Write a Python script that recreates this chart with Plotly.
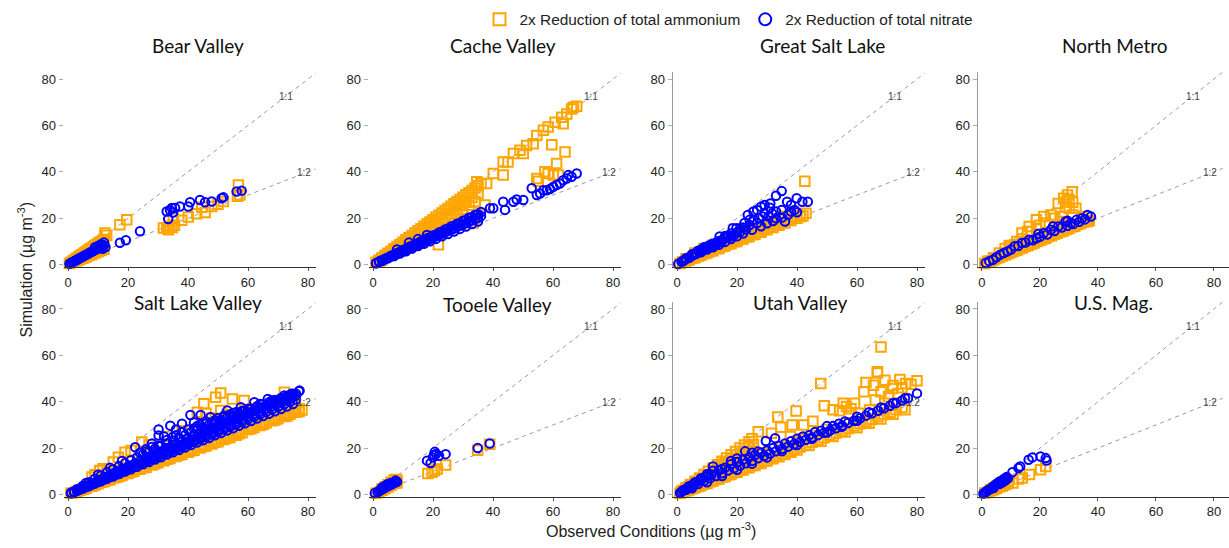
import plotly.graph_objects as go

PANEL_TITLES = ["Bear Valley", "Cache Valley", "Great Salt Lake", "North Metro",
                "Salt Lake Valley", "Tooele Valley", "Utah Valley", "U.S. Mag."]
TICK_VALUES = [0, 20, 40, 60, 80]
SERIES_NAMES = ["2x Reduction of total ammonium", "2x Reduction of total nitrate"]
REF_X = [0, 83]
REF_11 = [0, 83]
REF_12 = [0, 41.5]

# (observed, simulated) pairs
BEAR_NH4 = [(0.5,0.5),(1,0.9),(1.5,1.4),(2,1.8),(2.5,2.3),(3,2.7),(3.5,3.2),(4,3.6),(4.5,4.1),(5,4.5),(5.5,5),(6,5.4),
            (6.5,5.9),(7,6.3),(7.5,6.8),(8,7.2),(8.5,7.7),(9,8.1),(9.5,8.6),(10,9),(10.5,9.5),(11,9.9),(11.5,10.4),(12,10.8),
            (2,1.1),(3,1.7),(4,2.2),(5,2.8),(6,3.3),(7,3.9),(8,4.4),(9,5),(10,5.5),(11,6.1),(12,6.6),
            (3,2.2),(5,3.7),(7,5.2),(9,6.6),(11,8.1),
            (12.3,13.6),(12.9,12.7),(17.3,17.2),(19.6,19.4),
            (31.8,15.8),(32.9,15.8),(34,16.5),(33.5,15),(34.8,16),(35.1,20),(35.5,17),(37.9,19.1),(40.1,20.5),
            (42.9,21.9),(44.6,24.7),(45.7,22.5),(47.9,25.1),(51.8,27.2),(56.8,34.3),(57.3,30),(56.5,29.5),(50,26)]
BEAR_NO3 = [(0.5,0.4),(1,0.7),(1.5,1.1),(2,1.4),(2.5,1.8),(3,2.1),(3.5,2.5),(4,2.8),(4.5,3.2),(5,3.5),(5.5,3.9),(6,4.2),
            (6.5,4.6),(7,4.9),(7.5,5.3),(8,5.6),(8.5,6),(9,6.3),(9.5,6.7),(10,7),(10.5,7.4),(11,7.7),(11.5,8.1),(12,8.4),
            (12,9.5),(11,8.8),(10,8),(9,7.5),(12.5,7.5),(11.5,6.8),
            (17.3,9.4),(19.3,10.5),(24,14.4),
            (32.9,22.9),(33.4,19.7),(34.6,24.4),(35.7,24.4),(37.3,25.1),(40.1,25.1),(40.7,26.9),(44,27.9),(45.7,26.9),
            (47.9,27.2),(51.2,28.6),(51.8,29),(56.2,31.5),(57.9,31.9),(34,23.5),(35,22.5)]

CACHE_NH4 = [(1,1),(2,1.9),(3,2.9),(4,3.9),(5,4.9),(6,5.8),(7,6.8),(8,7.8),(9,8.7),(10,9.7),(11,10.7),(12,11.6),(13,12.6),
             (14,13.6),(15,14.6),(16,15.5),(17,16.5),(18,17.5),(19,18.4),(20,19.4),(21,20.4),(22,21.3),(23,22.3),(24,23.3),
             (25,24.2),(26,25.2),(27,26.2),(28,27.2),(29,28.1),(30,29.1),(31,30.1),(32,31),(33,32),(34,33),(35,34),(36,35),
             (2,1.6),(4,3.2),(6,4.8),(8,6.4),(10,8),(12,9.6),(14,11.2),(16,12.8),(18,14.4),(20,16),(22,17.6),(24,19.2),
             (26,20.8),(28,22.4),(30,24),(32,25.6),(34,27.2),
             (3,2.6),(5,4.4),(7,6.1),(9,7.9),(11,9.6),(13,11.4),(15,13.1),(17,14.9),(19,16.6),(21,18.4),(23,20.1),
             (25,21.9),(27,23.6),(29,25.4),(31,27.1),(33,28.9),(35,30.5),
             (3,2),(6,3.9),(9,5.9),(12,7.8),(15,9.8),(18,11.7),(21,13.7),(24,15.6),(27,17.6),(30,19.5),(33,21.5),
             (21.8,8.6),(37.3,25.7),(37.9,35),(32.9,22.9),(33.4,17.9),(27.9,25.7),(34.6,35.7),(30.5,27),
             (40.1,39.3),(43.4,44.3),(45,44.3),(46.8,47.9),(49,49.3),(51.2,51.4),(53.4,52.1),(54.6,55.7),(56.8,57.9),
             (58.4,59.3),(60.7,61.4),(62.9,63.6),(64.6,65),(66.2,67.1),(67.9,68.3),(66.8,67.9),
             (43.4,38.6),(50.1,47.9),(54.6,37.1),(55.1,36),(57.3,40),(58.4,39.3),(60.1,38.6),(61.8,38.6),(59.6,51.7),
             (61.2,43.6),(64,48.6),(63.4,60.7)]
CACHE_NO3 = [(2,1.3),(4,2.5),(6,3.8),(8,5),(10,6.3),(12,7.6),(14,8.8),(16,10.1),(18,11.3),(20,12.6),(22,13.9),(24,15.1),
             (26,16.4),(28,17.6),(30,18.9),(32,20.2),(34,21.4),(36,22.7),
             (3,1.6),(5,2.7),(7,3.7),(9,4.8),(11,5.8),(13,6.9),(15,8),(17,9),(19,10.1),(21,11.1),(23,12.2),(25,13.2),
             (27,14.3),(29,15.4),(31,16.4),(33,17.5),(35,18.6),
             (2,1.2),(4,2.3),(6,3.5),(8,4.6),(10,5.8),(12,7),(14,8.1),(16,9.3),(18,10.4),(20,11.6),(22,12.8),(24,13.9),
             (26,15.1),(28,16.2),(30,17.4),(32,18.6),(34,19.7),(36,20.9),
             (1,0.6),(3,1.9),(5,3.1),(7,4.3),(9,5.6),(11,6.8),(13,8.1),(15,9.3),(17,10.5),(19,11.8),(21,13),(23,14.3),
             (25,15.5),(27,16.7),(29,18),(31,19.2),(33,20.5),(35,21.7),
             (1,0.6),(5,2.9),(9,5.2),(13,7.5),(17,9.9),(21,12.2),(25,14.5),(29,16.8),(33,19.1),
             (3,1.8),(7,4.1),(11,6.4),(15,8.7),(19,11),(23,13.3),(27,15.6),(31,17.9),(35,20.2),
             (8,6.5),(12,9.5),(15,11),(18,12.8),(34.6,21.4),
             (39,24.3),(40.1,24.3),(43.4,27.1),(44,23.6),(46.8,27.1),(47.9,28.1),(50.1,27.9),(52.9,32.9),(54.6,30),
             (55.7,30.7),(56.8,32.1),(57.9,32.1),(59,32.6),(60.1,33.6),(61.2,34.3),(62.3,35),(63.4,36.4),(64.6,37.1),
             (65.1,38.6),(66.2,37.9),(67.9,39.3)]

GSL_NH4 = [(1,0.5),(3,1.6),(5,2.6),(7,3.6),(9,4.7),(11,5.7),(13,6.8),(15,7.8),(17,8.8),(19,9.9),(21,10.9),(23,12),
           (25,13),(27,14),(29,15.1),(31,16.1),(33,17.2),(35,18.2),(37,19.2),(39,20.3),(41,21.3),(43,22.1),
           (2,1.2),(4,2.3),(6,3.5),(8,4.6),(10,5.8),(12,7),(14,8.1),(16,9.3),(18,10.4),(20,11.6),(22,12.8),(24,13.9),
           (26,15.1),(28,16.2),(30,17.4),(32,18.6),(34,19.7),(36,20.9),
           (2,1),(4,2),(6,3),(8,4),(10,5),(12,6),(14,7),(16,8),(18,9),(20,10),(22,11),(24,12),(26,13),(28,14),
           (30,15),(32,16),(34,17),(36,18),(38,19),(40,20),(42,21),
           (42.6,36),(41.1,20.7),(3,2.5),(6,5),(9,7),(12,8.5)]
GSL_NO3 = [(0.4,0.3),(1.5,1.2),(2.3,1.8),(3,2.4),(4.1,3),(5,3.8),(6,4.5),(6.6,4.8),(7.5,5.5),(8.5,6.2),(9.5,7),(10.4,7.5),
           (11.5,8),(12.9,8.6),(14.2,12.1),(14.8,9.6),(16,11.4),(17.9,12.1),(18.6,15.7),(19.8,15.7),(21.1,15.7),
           (23.6,21.4),(24.2,19.3),(25.5,22.9),(26.7,23.6),(28,25),(29.2,25.7),(31.1,26.4),(33,29.7),(34.9,31.7),
           (39.9,28.6),(41.8,27.1),(43.6,27.1),(38,25.7),(36.7,27.1),(34.9,23.6),(33,22.9),(31.7,22.1),(30.5,20.7),
           (29.2,22.1),(27.3,20),(25.5,19.3),(26.7,17.9),(24.2,17.1),(33,20),(38,22.9),(39.2,23.6),(22,16),(20,14),
           (17,12.5),(15,10.5),(13,9.5),(11,8.5),(9,7.5),(7,6),(5,4.5),(3,2.8),(8,5.3),(10,6.5),(12,7.5),(14,8.6),
           (16,9.8),(18,11),(20,12.2),(22,13.4),(25,15),(28,16.5),(30,17.8),(32,18.8),(35,20.3),(37,21.5),(40,22.6),
           (36,18.6),(28.5,20.8),(31,24.5),(22.5,18),(2,1.6),(4,3.2),(6,4.8),(8,6.4),(10,7.8),(12,9),(14,10.2),
           (16,12.3),(18,13.4),(19,12.8),(21,14),(23,15.2)]

NMETRO_NH4 = [(1,0.5),(3,1.6),(5,2.6),(7,3.7),(9,4.7),(11,5.8),(13,6.8),(15,7.9),(17,8.9),(19,10),(21,11),(23,12.1),
              (25,13.1),(27,14.2),(29,15.2),(31,16.3),(33,17.3),(35,18.4),(37,19),(35.7,18.6),
              (2,1),(4,2),(6,3.1),(8,4.1),(10,5.2),(12,6.2),(14,7.2),(16,8.3),(18,9.3),(20,10.4),(22,11.4),(24,12.4),
              (26,13.5),(28,14.5),(30,15.6),(32,16.6),(34,17.6),(36,18.8),
              (31.1,31.4),(29.5,30),(28.2,28.6),(26.3,26.4),(31.3,26.9),(32.4,24.3),(30.1,24.3),(28.8,25),(27.6,20.7),
              (25.1,20),(23.8,21.4),(21.3,20.7),(18.8,15.7),(16.9,14.3),(15.7,14.3),(13.8,13.6),(18.8,19.3),(16.3,16.4),
              (11.3,8.6),(10,7.9),(27,18.6),(31.3,21.4),(34.5,20.7),(36.4,18.6),(30,28),(29,27),(22,18),(20,17),
              (14,11),(12,10),(9.4,8.3),(8,7),(6,5),(4,3),(2,1.5)]
NMETRO_NO3 = [(37.6,20.7),(36.4,21.4),(34.5,20),(32.6,19.3),(30.7,17.9),(28.8,18.6),(26.3,16.4),(23.8,15),(21.3,13.6),
              (18.8,11.4),(16.3,10.7),(13.8,9.3),(11.3,7.9),(8.8,5.7),(6.3,4.3),(3.8,2.1),(1.3,0.7),(35.5,19.5),
              (33.5,18.5),(31.5,17.5),(29.5,16.8),(27.5,16),(25,14.5),(22.5,13),(20,12),(17.5,10.5),(15,9.5),
              (12.5,8),(10,6.5),(7.5,5),(5,3.2),(2.5,1.5),(24.5,16.5),(29.5,18.9),(19.5,13.3)]

SLV_NH4 = [(1,0.5),(3,1.4),(5,2.4),(7,3.4),(9,4.3),(11,5.3),(13,6.2),(15,7.2),(17,8.2),(19,9.1),(21,10.1),(23,11),
           (25,12),(27,13),(29,13.9),(31,14.9),(33,15.8),(35,16.8),(37,17.8),(39,18.7),(41,19.7),(43,20.6),(45,21.6),
           (47,22.6),(49,23.5),(51,24.5),(53,25.4),(55,26.4),(57,27.4),(59,28.3),(61,29.3),(63,30.2),(65,31.2),
           (67,32.2),(69,33.1),(71,34.1),(73,35),(75,36),(77,37),(75.5,36.9),
           (2,0.9),(4,1.8),(6,2.7),(8,3.6),(10,4.6),(12,5.5),(14,6.4),(16,7.3),(18,8.2),(20,9.1),(22,10),(24,10.9),
           (26,11.8),(28,12.7),(30,13.7),(32,14.6),(34,15.5),(36,16.4),(38,17.3),(40,18.2),(42,19.1),(44,20),
           (46,20.9),(48,21.8),(50,22.8),(52,23.7),(54,24.6),(56,25.5),(58,26.6),(60,28),(62,28.9),(64,29.8),
           (66,30.8),(68,31.8),(70,32.7),(72,33.6),(74,34.6),(76,35.5),(78,36.4),
           (5,2.3),(9,4.1),(13,6),(17,7.8),(21,9.7),(25,11.5),(29,13.3),(33,15.2),(37,17),(41,18.9),(45,20.7),
           (49,22.5),(53,24.4),(57,26.2),(61,28.4),(65,30.2),(69,32.1),(73,33.9),(77,35.8),
           (50.9,43.8),(49.2,41.9),(45.3,39.1),(54.8,41.2),(58.7,40.5),(43.1,35.5),(50.9,36.2),(24.6,22.6),(19,18.2),
           (16.8,16.1),(15.1,14),(10.6,10.3),(11.7,11.1),(72.1,44.1),(73.3,38.4),(69.4,39.8),(75.5,39.1),(13,11),
           (9,8.5),(8,7.5),(46,35),(56,35),(62,37),(21,19),(27,21.5),(33,25),(38,27.5),(48,33),(53,34.5)]
SLV_NO3 = [(1,0.8),(3,2.3),(5,3.8),(7,5.3),(9,6.8),(11,8.2),(13,9.6),(15,10.9),(17,12.2),(19,13.5),(21,14.8),(23,16),
           (25,17.3),(27,18.5),(29,19.7),(31,20.9),(33,22.1),(35,23.3),(37,24.5),(39,25.6),(41,26.8),(43,27.9),(45,29),
           (47,30),(49,31.1),(51,32.1),(53,33.1),(55,34.1),(57,35.1),(59,36.1),(61,37),(63,38),(65,38.9),(67,39.8),
           (69,40.7),(71,41.6),(73,42.5),(75,43.4),(77,44.5),
           (2,1.1),(4,2.2),(6,3.4),(8,4.5),(10,5.6),(12,6.7),(14,7.8),(16,9),(18,10.1),(20,11.2),(22,12.3),(24,13.4),
           (26,14.6),(28,15.7),(30,16.8),(32,17.9),(34,19),(36,20.2),(38,21.3),(40,22.4),(42,23.5),(44,24.6),(46,25.8),
           (48,26.9),(50,28),(52,29.1),(54,30.2),(56,31.4),(58,32.5),(60,33.6),(62,34.7),(64,35.8),(66,37),(68,38.1),
           (70,39.2),(72,40.3),(74,41.4),(76,42.6),
           (2,1.3),(4,2.5),(6,3.7),(8,4.9),(10,6.1),(12,7.3),(14,8.5),(16,9.7),(18,10.9),(20,12),(22,13.2),(24,14.4),
           (26,15.6),(28,16.8),(30,18),(32,19.2),(34,20.4),(36,21.6),(38,22.8),(40,24),(42,25.1),(44,26.3),(46,27.4),
           (48,28.6),(50,29.7),(52,30.8),(54,32),(56,33.1),(58,34.2),(60,35.3),(62,36.4),(64,37.4),(66,38.4),
           (68,39.4),(70,40.4),(72,41.4),(74,42.4),(76,43.5),
           (1,0.6),(3,1.7),(5,2.9),(7,4.1),(9,5.2),(11,6.4),(13,7.5),(15,8.7),(17,9.9),(19,11),(21,12.2),(23,13.3),
           (25,14.5),(27,15.7),(29,16.8),(31,18),(33,19.1),(35,20.3),(37,21.5),(39,22.6),(41,23.8),(43,24.9),(45,26.1),
           (47,27.3),(49,28.4),(51,29.6),(53,30.7),(55,31.9),(57,33),(59,34.2),(61,35.3),(63,36.5),(65,37.6),
           (67,38.8),(69,39.9),(71,41),(73,42),(75,43),
           (2,1.1),(4,2.2),(6,3.2),(8,4.3),(10,5.4),(12,6.5),(14,7.6),(16,8.6),(18,9.7),(20,10.8),(22,11.9),(24,13),
           (26,14),(28,15.1),(30,16.2),(32,17.3),(34,18.4),(36,19.4),(38,20.5),(40,21.6),(42,22.7),(44,23.8),(46,24.8),
           (48,25.9),(50,27),(52,28.1),(54,29.2),(56,30.2),(58,31.3),(60,32.4),(62,33.5),(64,34.6),(66,35.6),
           (68,36.7),(70,37.8),(72,38.9),(74,40),(76,41),
           (1,0.5),(3,1.6),(5,2.6),(7,3.6),(9,4.7),(11,5.7),(13,6.8),(15,7.8),(17,8.8),(19,9.9),(21,10.9),(23,12),
           (25,13),(27,14),(29,15.1),(31,16.1),(33,17.2),(35,18.2),(37,19.2),(39,20.3),(41,21.3),(43,22.4),(45,23.4),
           (47,24.4),(49,25.5),(51,26.5),(53,27.6),(55,28.6),(57,29.6),(59,30.7),(61,31.7),(63,32.8),(65,33.8),
           (67,34.8),(69,35.9),(71,36.9),(73,38),(75,39),
           (26,18.5),(30,21),(33,23.5),(36,25.5),(40,28),(43,29.5),(46,30.5),(49,32),(52,33.5),(56,35.5),(60,37),
           (64,39),(68,40.5),(28,20.5),(35,24.8),(42,28.5),(48,31),(54,34.5),
           (30.2,28),(30.2,25.4),(34.1,29.7),(22.4,20.4),(38,30.5),(40.8,34.3),(44.2,34.3),(47.5,33.3),(53.1,36.2),
           (57.6,37.6),(62.1,39.8),(66.6,41.2),(72.1,42.7),(77.2,44.8),(74.4,43.4),(36,28),(42,31),(46,31.5),(50,33),
           (55,35),(28,22),(32,25),(26,19.5),(18,14.5),(14,11.5),(10,8.5),(6,5),(24,18),(38,27),(44,30),(52,34),(58,36)]

TOOELE_NH4 = [(18.3,9.1),(19.7,9.6),(21.4,11),(24.2,12.7),(34.9,19.1),(38.9,21.7),(20.5,10.3),(1,0.5),(2,1),(3,1.8),
              (4,2.5),(5,3.2),(6,4),(7,5),(7.5,5.8),(8,6.3),(7,6.2),(6,5.3),(5,4.2),(4,3.2),(3,2.4),(8,5),(6.5,4.8),(7.5,6.5)]
TOOELE_NO3 = [(0.6,0.6),(1.5,1),(2,1.5),(2.5,1.8),(3,2.3),(3.5,2.6),(4,3),(4.5,3.3),(5,3.6),(5.5,4),(6,4.3),(6.5,4.6),
              (7,5),(7.5,5.3),(8,5.5),(7.5,6),(6,5),(5,4.5),(4,3.8),(3,3),(18,14.6),(19.2,13.6),(20.3,17),(20.6,18.4),
              (22,16.7),(24.2,17.4),(34.9,20),(38.9,22),(20,16),(21,17.5)]

UTAH_NH4 = [(1,0.5),(3,1.5),(5,2.5),(7,3.5),(9,4.5),(11,5.5),(13,6.5),(15,7.5),(17,8.5),(19,9.5),(21,10.5),(23,11.5),
            (25,12.5),(27,13.5),(29,14.5),(31,15.5),(33,16.5),(35,17.5),(37,18.5),(39,19.5),(41,20.5),(43,21.5),
            (45,22.5),(47,23.5),(49,24.5),(51,25.5),(53,26.5),(55,27.5),(57,28.5),(59,29.5),(61,30.5),(63,31.5),
            (65,32.5),(67,33.5),(69,34.5),(71,35.5),(73,36.5),(75,37.5),
            (2,1),(4,1.9),(6,2.9),(8,3.8),(10,4.8),(12,5.8),(14,6.7),(16,7.7),(18,8.6),(20,9.6),(22,10.6),(24,11.5),
            (26,12.5),(28,13.4),(30,14.4),(32,15.4),(34,16.3),(36,17.3),(38,18.2),(40,19.2),(44,21.1),(48,23),
            (52,25),(56,26.9),(60,28.8),(64,30.7),(68,32.6),(72,34.6),(76,36.5),
            (30,18),(35,20.5),(40,23),(45,25.5),(50,28),(28,17),(42,24),
            (1.5,1.4),(3,2.9),(4.5,4.3),(6,5.7),(7.5,7.1),(9,8.6),(10.5,10),(12,11.4),(13.5,12.8),(15,14.3),
            (16.5,15.7),(18,17.1),(19.5,18.5),(21,20),(22.5,21.4),(24,22.8),(25,24),
            (2,1.7),(4,3.4),(6,5.1),(8,6.8),(10,8.5),(12,10.2),(14,11.9),(16,13.6),(18,15.3),(20,17),(22,18.7),
            (24,20.4),(25.5,21.5),
            (3,2.3),(5,3.8),(7,5.3),(9,6.8),(11,8.3),(13,9.8),(15,11.3),(17,12.8),(19,14.3),(21,15.8),(23,17.3),(25,18.8),
            (4,2.6),(8,5.2),(12,7.8),(16,10.4),(20,13),(24,15.6),
            (68,63.6),(66.8,52.9),(47.9,47.9),(33.6,33.4),(39.7,36),(49.1,38.3),(45.3,31.6),(42.2,30),(38.4,30),
            (34.6,29),(27.1,27.1),(54.2,36.1),(55.4,39.3),(59.2,39.3),(57.3,35),(63,48.3),(62.3,44.3),(65.5,47.1),
            (69.3,49.3),(74.3,49.6),(76.2,47.9),(80,49),(82.7,49.6),(71.8,45.7),(68,44.3),(70.5,42.1),(66.1,40.7),
            (73.7,43.6),(69.3,39.3),(64.2,36.4),(60.5,35),(37.8,25),(31.5,26.4),(23.9,20.7),(66.8,52.4),(56.5,38),
            (58,37),(52,36.5),(72,47),(75,46),(78,47.5)]
UTAH_NO3 = [(1,0.7),(3,2),(5,3.3),(7,4.5),(9,5.8),(11,7),(13,8),(15,9.2),(17,10.3),(19,11.3),(21,12.4),(23,13.5),
            (25,14.5),(27,15.6),(29,16.6),(31,17.6),(33,18.6),(35,19.6),(37,20.6),(39,21.6),(41,22.6),(43,23.6),
            (45,24.6),(47,25.6),(49,26.6),(51,27.6),(53,28.6),(55,29.7),(57,30.8),(59,31.8),(61,32.9),(63,34),
            (65,35),(67,36.1),(69,37.2),(71,38.3),(73,39.4),(75,40.5),(77,41.5),(80,43.6),(82.7,45.4),
            (2,1.8),(4,3.6),(6,5.3),(8,7),(10,8.7),(12,10.2),(14,10.5),(16,11.5),(18,13),(20,14),(22,15),(24,16),
            (26,17),(28,18),(30,19),(32,20),(34,21),(36,22),(38,23),(40,24),(44,25.5),(48,27.5),(52,29.5),(56,31.5),
            (60,33.5),(64,35.5),(68,37.5),(72,39.5),(76,41.5),
            (1.5,1.2),(2.5,2),(3.5,2.9),(4.5,3.7),(5.5,4.5),(6.5,5.3),(7.5,6),(8.5,6.8),(9.5,7.5),(10.5,8.3),(11.5,8.5),
            (29.6,23.1),(32.7,24.3),(22.7,18.6),(12,12.1),(15,11),(18,14.5),(20,15.5),(25,18),(27,18.5),(42,25),
            (46,27),(50,29.5),(54,30.5),
            (5,2.7),(10,5.3),(15,8),(20,10.7),(25,13.3),(30,16),(35,18.7),(40,21.3),(45,24),(50,26.7),(55,29.2),(60,31.8)]

USMAG_NH4 = [(1,0.6),(2,1),(3,1.6),(3,2),(4,2),(4,2.8),(5,2.6),(5,3.4),(6,3.2),(6,4.2),(7,3.7),(7,4.8),(8,4.2),(8,5.3),
             (9,4.8),(9,5.8),(10.7,5),(12.6,6.7),(13.9,7.1),(16.4,8.6),(20.2,10.7),(22,12.1)]
USMAG_NO3 = [(0.5,0.4),(1,0.8),(1.5,1.3),(2,1.8),(2.5,2.1),(3,2.5),(3.5,3),(4,3.5),(4.5,4),(5,4.5),(5.5,5),(6,5.5),
             (6.5,5.8),(7,6),(7.5,6.6),(8,7),(8.5,7.5),(9,7),(8,6),(6,4.5),(4,2.8),(7,5.2),(10.5,9.6),(12.6,11.4),
             (13.2,12.1),(16.1,15),(17.4,16),(20.2,16.4),(22,15.7),(22.3,14.7)]

PANEL_DATA = [(BEAR_NH4, BEAR_NO3), (CACHE_NH4, CACHE_NO3), (GSL_NH4, GSL_NO3), (NMETRO_NH4, NMETRO_NO3),
              (SLV_NH4, SLV_NO3), (TOOELE_NH4, TOOELE_NO3), (UTAH_NH4, UTAH_NO3), (USMAG_NH4, USMAG_NO3)]

W, H = 1229, 548
ORANGE = "#FFA500"
BLUE = "#0000FF"
COL_LEFT = [63.5, 368.5, 672.5, 977.6]   # pixel left edge of each plot column
COL_RIGHT = [315.5, 620.5, 924.5, 1229.0]
COL_SCALE = [3.0, 3.0, 3.0, 2.9]          # pixels per data unit along x
ROW_TOP = [72.8, 304.8]
ROW_H = 196.6
TITLE_POS = [(198, 46), (503, 46), (822, 46), (1115, 46),
             (198, 305), (497, 307), (800, 305), (1113, 305)]

fig = go.Figure()
annotations = []
layout = dict(width=W, height=H, margin=dict(l=0, r=0, t=0, b=0),
              paper_bgcolor="white", plot_bgcolor="white", showlegend=True)

for i, (nh4, no3) in enumerate(PANEL_DATA):
    r, c = divmod(i, 4)
    k = i + 1
    xa, ya = f"x{k}", f"y{k}"
    x0, x1 = COL_LEFT[c], COL_RIGHT[c]
    xr_max = -1.5 + (x1 - x0) / COL_SCALE[c]
    ytop = ROW_TOP[r]
    ybot = ytop + ROW_H
    layout[f"xaxis{k}"] = dict(domain=[x0 / W, x1 / W], range=[-1.5, xr_max], anchor=ya,
                               tickvals=TICK_VALUES, showgrid=False, zeroline=False,
                               showline=True, linecolor="#333", linewidth=1,
                               ticks="outside", ticklen=3, tickcolor="#555", tickwidth=1,
                               ticklabeloverflow="allow",
                               tickfont=dict(family="Liberation Sans", size=13, color="#222"))
    layout[f"yaxis{k}"] = dict(domain=[1 - ybot / H, 1 - ytop / H], range=[-1, 83], anchor=xa,
                               tickvals=TICK_VALUES, showgrid=False, zeroline=False,
                               showline=(c >= 2), linecolor="#9a9a9a", linewidth=1,
                               ticks="outside", ticklen=4, tickcolor="#aaa",
                               tickfont=dict(family="Liberation Sans", size=13, color="#222"))
    fig.add_trace(go.Scatter(x=REF_X, y=REF_11, mode="lines", xaxis=xa, yaxis=ya, showlegend=False,
                             line=dict(color="#999", width=1, dash="4px,4px"), hoverinfo="skip"))
    fig.add_trace(go.Scatter(x=REF_X, y=REF_12, mode="lines", xaxis=xa, yaxis=ya, showlegend=False,
                             line=dict(color="#999", width=1, dash="4px,4px"), hoverinfo="skip"))
    fig.add_trace(go.Scatter(x=[p[0] for p in nh4], y=[p[1] for p in nh4], mode="markers",
                             xaxis=xa, yaxis=ya, name=SERIES_NAMES[0], showlegend=(i == 0),
                             cliponaxis=False,
                             marker=dict(symbol="square-open", size=9.5, color=ORANGE, line=dict(width=2))))
    fig.add_trace(go.Scatter(x=[p[0] for p in no3], y=[p[1] for p in no3], mode="markers",
                             xaxis=xa, yaxis=ya, name=SERIES_NAMES[1], showlegend=(i == 0),
                             cliponaxis=False,
                             marker=dict(symbol="circle-open", size=8.5, color=BLUE, line=dict(width=2))))
    annotations.append(dict(text="1:1", x=72.7, y=72.6, xref=xa, yref=ya, showarrow=False,
                            font=dict(family="Liberation Sans", size=10, color="#444")))
    annotations.append(dict(text="1:2", x=78.5, y=39.7, xref=xa, yref=ya, showarrow=False,
                            font=dict(family="Liberation Sans", size=10, color="#444")))
    tx, ty = TITLE_POS[i]
    annotations.append(dict(text=PANEL_TITLES[i], x=tx / W, y=1 - ty / H, xref="paper", yref="paper",
                            showarrow=False, xanchor="center", yanchor="middle",
                            font=dict(family="Lato", size=19, color="#111")))

annotations.append(dict(text="Simulation (µg m<sup>-3</sup>)", x=25 / W, y=1 - 272 / H, xref="paper", yref="paper",
                        showarrow=False, textangle=-90, xanchor="center", yanchor="middle",
                        font=dict(family="Liberation Sans", size=16, color="#222")))
annotations.append(dict(text="Observed Conditions (µg m<sup>-3</sup>)", x=651 / W, y=1 - 535 / H,
                        xref="paper", yref="paper", showarrow=False, xanchor="center", yanchor="middle",
                        font=dict(family="Liberation Sans", size=16, color="#222")))

layout["annotations"] = annotations
layout["legend"] = dict(orientation="h", x=729 / W, xanchor="center", y=1 - 20 / H, yanchor="middle",
                        font=dict(family="Liberation Sans", size=15.4, color="#222"),
                        bgcolor="rgba(0,0,0,0)", itemsizing="constant")
fig.update_layout(**layout)
fig.write_html("out.html", config={"displayModeBar": False},
               post_script="document.body.style.margin='0px';document.body.style.overflow='hidden';")
